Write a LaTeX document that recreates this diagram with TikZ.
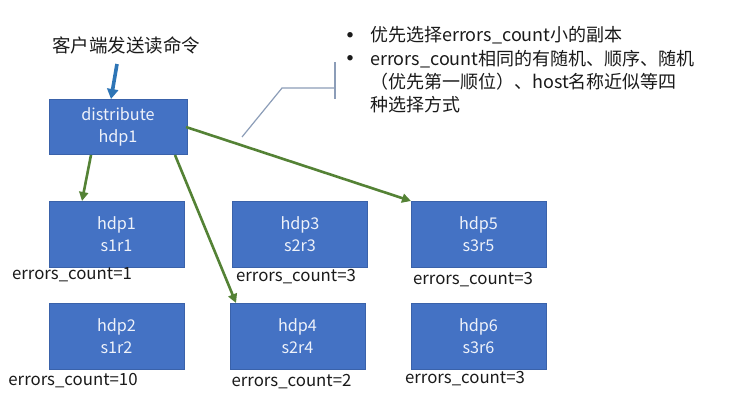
\documentclass[tikz,border=0pt]{standalone}
\usepackage{fontspec}
\setmainfont{Noto Sans CJK SC}
\usetikzlibrary{arrows.meta}
\definecolor{boxblue}{HTML}{4472C4}
\definecolor{boxedge}{HTML}{3A62AA}
\definecolor{boxtext}{HTML}{EEF2FA}
\definecolor{arrgreen}{HTML}{548235}
\definecolor{arrblue}{HTML}{2E75B6}
\definecolor{callout}{HTML}{8C9DB8}
\definecolor{txt}{HTML}{1A1A1A}
\newcommand{\mybul}{\makebox[24pt][l]{\hspace*{1pt}\raisebox{4.6pt}{\fontsize{6}{6}\selectfont ●}}}
\tikzset{
  hostbox/.style={draw=boxedge, line width=0.8pt, fill=boxblue, text=boxtext,
    minimum width=135pt, minimum height=66pt, inner sep=0pt, align=center,
    font=\fontsize{16.2}{22}\selectfont},
  errlabel/.style={text=txt, inner sep=0pt, font=\fontsize{16.8}{18}\selectfont},
  greenarrow/.style={draw=arrgreen, line width=2.6pt, -{Triangle[length=9pt,width=9pt]}},
}
\begin{document}
\begin{tikzpicture}[x=1pt,y=-1pt]
\useasboundingbox[fill=white] (0,0) rectangle (754,415);
% title
\node[text=txt, inner sep=0pt, font=\fontsize{18.5}{20}\selectfont] (title) at (126,45) {客户端发送读命令};
% boxes
\node[hostbox, minimum width=138pt, minimum height=55pt] (dist) at (118,126.5) {distribute\\hdp1};
\node[hostbox] (h1) at (116.5,234) {hdp1\\s1r1};
\node[hostbox] (h3) at (300,234) {hdp3\\s2r3};
\node[hostbox] (h5) at (478.5,234) {hdp5\\s3r5};
\node[hostbox] (h2) at (116.5,336.5) {hdp2\\s1r2};
\node[hostbox] (h4) at (297.5,336.5) {hdp4\\s2r4};
\node[hostbox] (h6) at (478.5,336.5) {hdp6\\s3r6};
% labels
\node[errlabel] (e1) at (72,275) {errors\_count=1};
\node[errlabel] (e3) at (296,277) {errors\_count=3};
\node[errlabel] (e5) at (473,280) {errors\_count=3};
\node[errlabel] (e2) at (73,381) {errors\_count=10};
\node[errlabel] (e4) at (291.5,382) {errors\_count=2};
\node[errlabel] (e6) at (465,379) {errors\_count=3};
% client arrow
\coordinate (cstart) at (117,64);
\coordinate (cend) at (111,99);
\draw[draw=arrblue, line width=3.6pt, -{Triangle[length=10pt,width=11pt]}] (cstart) -- (cend);
% green arrows
\coordinate (s1) at (91,155);
\coordinate (t1) at (82,201);
\coordinate (s2) at (175,155);
\coordinate (t2) at (236,303);
\coordinate (s3) at (186,127);
\coordinate (t3) at (411,201);
\draw[greenarrow] (s1) -- (t1);
\draw[greenarrow] (s2) -- (t2);
\draw[greenarrow] (s3) -- (t3);
% callout
\coordinate (c1) at (242,137);
\coordinate (c2) at (282,88);
\coordinate (c3) at (335,88);
\coordinate (b1) at (335,62);
\coordinate (b2) at (335,99);
\draw[callout, line width=1.2pt] (c1) -- (c2) -- (c3);
\draw[callout, line width=1.2pt] (b1) -- (b2);
\node[anchor=north west, text=txt, inner sep=0pt, text width=380pt,
  font=\fontsize{18}{23.3}\selectfont] (note) at (346,26.5) {%
  \mybul 优先选择errors\_count小的副本\\
  \mybul errors\_count相同的有随机、顺序、随机\\
  \hspace*{24pt}（优先第一顺位）、host名称近似等四\\
  \hspace*{24pt}种选择方式};
\end{tikzpicture}
\end{document}
